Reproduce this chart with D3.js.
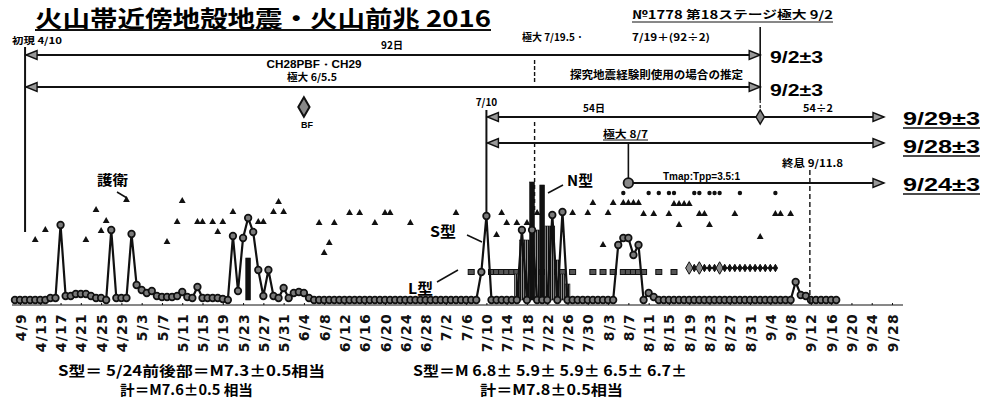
<!DOCTYPE html>
<html lang="ja">
<head>
<meta charset="utf-8">
<title>火山帯近傍地殻地震・火山前兆 2016</title>
<script src="https://d3js.org/d3.v7.min.js"></script>
<style>
  body { margin: 0; background: #fff; }
  svg { display: block; font-family: "Noto Sans CJK JP", sans-serif; font-weight: bold; }
  .num { font-family: "Liberation Sans", Arial, sans-serif; }
  .tick text { font-family: "DejaVu Sans", sans-serif; font-weight: bold; }
</style>
</head>
<body>
<script>
// size of the page
var w = 996, h = 401;

// tick labels on the date axis
var tickLabels = ["4/9","4/13","4/17","4/21","4/25","4/29","5/3","5/7","5/11","5/15","5/19","5/23","5/27","5/31",
  "6/4","6/8","6/12","6/16","6/20","6/24","6/28","7/2","7/6","7/10","7/14","7/18","7/22","7/26","7/30",
  "8/3","8/7","8/11","8/15","8/19","8/23","8/27","8/31","9/4","9/8","9/12","9/16","9/20","9/24","9/28"];

// main series (circle markers with line), one value per day from 4/8
var mainStart = "4/8";
var mainApr = [0,0,0,0,0,0,0,1,1,37.5,2,2,3,3,3,2,1,1,0,35,1,1,1];              // 4/8 - 4/30
var mainMay = [33,7.5,5,3.5,4.5,2,1.5,1.5,1.5,2, 4,1.5,1,6.5,1,1,1,1,0.5,0,
               32,4.5,31,41,34,15,2,15,2,1,6];                                  // 5/1 - 5/31
var mainJun = [1,3.5,4,3.5,1,0,0,0,0,0, 0,0,0,0,0,0,0,0,0,0, 0,0,0,0,0,0,0,0,0,0]; // 6/1 - 6/30
var mainJul = [0,0,0,0,0,0,0,0,14,42, 0,0,0,0,0,0,35,0,35,0, 0,0,42.5,0,44,0,0,0,0,0,0]; // 7/1 - 7/31
var mainAug = [0,0,0,0,27.5,31,31,22.5,27.5,0, 3.5,1.5,0,0,0,0,0,0,0,0, 0,0,0,0,0,0,0,0,0,0,0]; // 8/1 - 8/31
var mainSep = [0,0,0,0,0,0,0,0,9,2.5, 2,0,0,0,0,0,0];                            // 9/1 - 9/17

// N-type bars
var barDates  = ["5/24","7/16","7/17","7/18","7/19","7/20","7/21","7/22","7/23","7/24","7/25","7/26"];
var barValues = [21, 13, 30, 30, 59, 35, 57.5, 37, 37, 20, 13, 8];

// triangles
var triDates  = ["4/12","4/14","4/22","4/24","4/25","4/26","4/30","5/8","5/10","5/11","5/14","5/15","5/17","5/18","5/19",
  "5/21","5/26","5/27","5/29","5/30","5/31","6/7","6/8","6/9","6/10","6/13","6/15","6/18","6/20","6/21","6/25","7/4",
  "7/12","7/13","7/14","7/16","7/18","7/20","7/27","7/30","7/31","8/2","8/3","8/4","8/6","8/7","8/8","8/9","8/10",
  "8/12","8/15","8/16","8/17","8/18","8/19","8/17","8/21","8/22","8/23","8/28","9/2","9/5","9/6","9/8"];
var triValues = [30,35,30,45,34.5,39.5,50,29,39,49.5,39,39,39,34,39,
  44,39,39,44,49,44,38.5,23.5,28.5,38.5,43.5,43.5,38.5,43.5,43.5,38.5,43.5,
  32.5,43.5,38.5,38.5,38.5,43.5,43.5,43.5,48.5,27.5,43.5,48.5,48.5,48.5,48.5,48.5,43,
  43,43,48,48,48,48,37.5,43,43,37.5,43,31.5,43,43,43];

// small dots (upper row)
var dotDates  = ["8/6","8/11","8/13","8/15","8/16","8/20","8/21","8/23","8/24","8/25","8/29","9/5"];
var dotValues = [53.5,53.5,53.5,53.5,53.5,53.5,53.5,53.5,53.5,53.5,53.5,53.5];

// L-type squares
var sqDates = ["7/7","7/11","7/12","7/13","7/14","7/15","7/16","7/17","7/18","7/19","7/20","7/21","7/22","7/23","7/24","7/25",
  "7/27","7/31","8/2","8/4","8/6","8/7","8/8","8/9","8/10","8/13","8/16"];
var sqValue = 14;

// diamond series
var diaDates  = ["8/19","8/20","8/21","8/22","8/23","8/24","8/25","8/26","8/27","8/28","8/29","8/30","8/31","9/1","9/2","9/3","9/4","9/5"];
var diaValues = [16,16,16,16,16,16,16,16,16,16,16,16,16,16,16,16,16,16];
var diaBig    = ["8/19","8/21","8/25"];

// "M/D" (fractional day allowed) -> UTC date 2016
function md(s) {
  var p = s.split("/");
  return new Date(Date.UTC(2016, +p[0] - 1, 1) + (+p[1] - 1) * 864e5);
}

var x = d3.scaleUtc().domain([md("4/9"), md("9/28")]).range([20, 892]);
var y = d3.scaleLinear().domain([0, 100]).range([300, 100]);

var mainValues = mainApr.concat(mainMay, mainJun, mainJul, mainAug, mainSep);
var mainData = mainValues.map(function(v, i) { return [d3.utcDay.offset(md(mainStart), i), v]; });

var svg = d3.select("body").append("svg").attr("width", w).attr("height", h);
svg.append("rect").attr("width", w).attr("height", h).attr("fill", "#fff");

var defs = svg.append("defs");
var hatch = defs.append("pattern").attr("id", "hatch").attr("patternUnits", "userSpaceOnUse")
  .attr("width", 2).attr("height", 4);
hatch.append("rect").attr("width", 2).attr("height", 4).attr("fill", "#8a8a8a");
hatch.append("rect").attr("width", 1).attr("height", 4).attr("fill", "#111");

// helpers
function txt(px, py, s, size, opt) {
  opt = opt || {};
  var t = svg.append("text").attr("x", px).attr("y", py).attr("font-size", size).text(s);
  if (opt.len) t.attr("textLength", opt.len).attr("lengthAdjust", "spacingAndGlyphs");
  if (opt.anchor) t.attr("text-anchor", opt.anchor);
  if (opt.cls) t.attr("class", opt.cls);
  return t;
}
function line(x1, y1, x2, y2, sw, dash) {
  var l = svg.append("line").attr("x1", x1).attr("y1", y1).attr("x2", x2).attr("y2", y2)
    .attr("stroke", "#111").attr("stroke-width", sw || 1.5);
  if (dash) l.attr("stroke-dasharray", dash);
  return l;
}
function head(px, py, dir) {
  var d = dir === "r"
    ? [[px, py], [px - 11, py - 4.5], [px - 11, py + 4.5]]
    : [[px, py], [px + 11, py - 4.5], [px + 11, py + 4.5]];
  svg.append("polygon").attr("points", d.join(" ")).attr("fill", "#999").attr("stroke", "#111").attr("stroke-width", 1.4);
}
function arrow(x1, x2, py, both) {
  line(x1, py, x2, py, 1.8);
  head(x2, py, "r");
  if (both) head(x1, py, "l");
}

// ---- axis ----
line(12, 305, 903, 305, 1);
var axis = d3.axisBottom(x)
  .tickValues(tickLabels.map(md))
  .tickFormat(function(d, i) { return tickLabels[i]; })
  .tickSizeInner(-2).tickSizeOuter(0);
var ax = svg.append("g").attr("transform", "translate(0,305)").call(axis);
ax.select(".domain").remove();
ax.selectAll(".tick line").attr("stroke", "#111");
ax.selectAll(".tick text")
  .attr("transform", "rotate(-90)")
  .attr("text-anchor", "end")
  .attr("x", -8).attr("y", 0).attr("dy", "0.36em")
  .attr("font-size", 14).attr("letter-spacing", 1.2).attr("fill", "#111");

// ---- data marks ----
// triangles
var tri = d3.symbol().type(d3.symbolTriangle).size(20);
svg.append("g").selectAll("path").data(triDates).enter().append("path")
  .attr("d", tri)
  .attr("transform", function(d, i) { return "translate(" + x(md(d)) + "," + y(triValues[i]) + ")"; })
  .attr("fill", "#111");

// dots
svg.append("g").selectAll("circle").data(dotDates).enter().append("circle")
  .attr("cx", function(d) { return x(md(d)); })
  .attr("cy", function(d, i) { return y(dotValues[i]); })
  .attr("r", 2.2).attr("fill", "#111");

// L-type squares
svg.append("g").selectAll("rect").data(sqDates).enter().append("rect")
  .attr("x", function(d) { return x(md(d)) - 3; })
  .attr("y", y(sqValue) - 2.5)
  .attr("width", 6).attr("height", 5)
  .attr("fill", "#555").attr("stroke", "#111").attr("stroke-width", 1);

// diamond series
svg.append("path").datum(diaDates)
  .attr("d", d3.line().x(function(d) { return x(md(d)); }).y(function(d, i) { return y(diaValues[i]); }))
  .attr("fill", "none").attr("stroke", "#111").attr("stroke-width", 1.5);
svg.append("g").selectAll("path").data(diaDates).enter().append("path")
  .attr("d", function(d) { return d3.symbol().type(d3.symbolDiamond).size(diaBig.indexOf(d) >= 0 ? 45 : 16)(); })
  .attr("transform", function(d, i) { return "translate(" + x(md(d)) + "," + y(diaValues[i]) + ")"; })
  .attr("fill", function(d) { return diaBig.indexOf(d) >= 0 ? "#888" : "#111"; })
  .attr("stroke", "#111").attr("stroke-width", 1);

// N-type bars
svg.append("g").selectAll("rect").data(barDates).enter().append("rect")
  .attr("x", function(d) { return x(md(d)) - 2.4; })
  .attr("y", function(d, i) { return y(barValues[i]); })
  .attr("width", 4.8)
  .attr("height", function(d, i) { return y(0) - y(barValues[i]); })
  .attr("fill", function(d, i) { return (barValues[i] > 50 || d === "5/24") ? "#111" : "url(#hatch)"; })
  .attr("stroke", "#111").attr("stroke-width", 0.6);

// main series
svg.append("path").datum(mainData)
  .attr("d", d3.line().x(function(d) { return x(d[0]); }).y(function(d) { return y(d[1]); }))
  .attr("fill", "none").attr("stroke", "#111").attr("stroke-width", 2.2);
svg.append("g").selectAll("circle").data(mainData).enter().append("circle")
  .attr("cx", function(d) { return x(d[0]); })
  .attr("cy", function(d) { return y(d[1]); })
  .attr("r", 3.3).attr("fill", "#7a7a7a").attr("stroke", "#111").attr("stroke-width", 1.7);

// ---- annotations ----
// title
txt(35, 27, "火山帯近傍地殻地震・火山前兆 2016", 23, { len: 456 });
line(35, 30, 491, 30, 2);
txt(632, 19, "№1778 第18ステージ極大 9/2", 11, { len: 201 });
line(632, 22, 833, 22, 1);

// first appearance 4/10
var x410 = x(md("4/10"));
txt(12, 44, "初現 4/10", 9.5, { len: 50 });
line(x410, 47, x410, 232, 2);

// 9/2 estimate arrows
var x92 = x(md("9/2"));
arrow(x410 + 1, x92, 55, true);
arrow(x410 + 1, x92, 87, true);
line(x92, 27, x92, 100, 1.6);
line(x92, 100, x92, 117, 1.2, "3,2");
txt(392, 49, "92日", 10, { anchor: "middle" });
txt(522, 41, "極大 7/19.5 ·", 10, { len: 61 });
txt(632, 41, "7/19＋(92÷2)", 10, { len: 78 });
txt(570, 79, "探究地震経験則使用の場合の推定", 11, { len: 173 });
txt(314, 68, "CH28PBF・CH29", 10, { anchor: "middle", len: 95, cls: "num" });
txt(312, 81, "極大 6/5.5", 10, { anchor: "middle", len: 50 });
txt(770, 63, "9/2±3", 17, { len: 53, cls: "num" });
txt(770, 96, "9/2±3", 17, { len: 53, cls: "num" });

// 7/19.5 dashed marker
var x7195 = x(md("7/19.5"));
line(x7195, 60, x7195, 82, 1.4, "4,2");
line(x7195, 122, x7195, 212, 1.4, "4,3");

// 7/10 arrows
var x710 = x(md("7/10"));
txt(x710, 106, "7/10", 10, { anchor: "middle" });
line(x710, 110, x710, 212, 2);
var xEnd = 884;
arrow(x710 + 1, xEnd, 117, true);
arrow(x710 + 1, xEnd, 143, true);
txt(594, 112, "54日", 10, { anchor: "middle" });
txt(803, 112, "54÷2", 10, { len: 30 });
svg.append("path").attr("d", d3.symbol().type(d3.symbolDiamond).size(60)())
  .attr("transform", "translate(" + x92 + ",117)").attr("fill", "#888").attr("stroke", "#111").attr("stroke-width", 1.4);

// 8/7 maximum
var x87 = x(md("8/7"));
txt(603, 138, "極大 8/7", 10, { len: 45 });
line(603, 140, 648, 140, 1);
line(x87, 143, x87, 183, 1.6);
arrow(x87, xEnd, 183, false);
svg.append("circle").attr("cx", x87).attr("cy", 183).attr("r", 4.8)
  .attr("fill", "#888").attr("stroke", "#111").attr("stroke-width", 1.8);
txt(663, 180, "Tmap:Tpp=3.5:1", 10, { len: 77, cls: "num" });

// ending 9/11.8
var xEndq = x(md("9/11.8"));
txt(782, 167, "終息 9/11.8", 10, { len: 61 });
line(xEndq, 170, xEndq, 303, 1.4, "5,3");

// right side forecasts
txt(903, 125, "9/29±3", 19, { len: 77, cls: "num" });
line(903, 128, 980, 128, 1.5);
txt(903, 153, "9/28±3", 19, { len: 77, cls: "num" });
line(903, 156, 980, 156, 1.5);
txt(903, 191, "9/24±3", 19, { len: 77, cls: "num" });
line(903, 194, 980, 194, 1.5);

// BF
var xbf = x(md("6/4"));
svg.append("path").attr("d", d3.symbol().type(d3.symbolDiamond).size(110)())
  .attr("transform", "translate(" + xbf + "," + y(96.5) + ")").attr("fill", "#888").attr("stroke", "#111").attr("stroke-width", 2);
txt(xbf + 3, 128, "BF", 9, { anchor: "middle", cls: "num" });

// type labels
txt(97, 185, "護衛", 14, { len: 31 });
line(117, 192, 127, 198, 1.5);
txt(430, 237, "S型", 15, { len: 26 });
line(467, 235, 482, 242, 1.5);
txt(408, 294, "L型", 15, { len: 25 });
line(437, 282, 458, 270, 1.5);
txt(567, 186, "N型", 15, { len: 26 });
line(548, 193, 563, 185, 1.5);

// notes
txt(58, 376, "S型＝  5/24前後部＝M7.3±0.5相当", 14, { len: 267 });
txt(120, 395, "計＝M7.6±0.5 相当", 14, { len: 133 });
txt(413, 376, "S型＝M 6.8± 5.9± 5.9± 6.5± 6.7±", 14, { len: 274 });
txt(480, 395, "計＝M7.8±0.5相当", 14, { len: 143 });
</script>
</body>
</html>
